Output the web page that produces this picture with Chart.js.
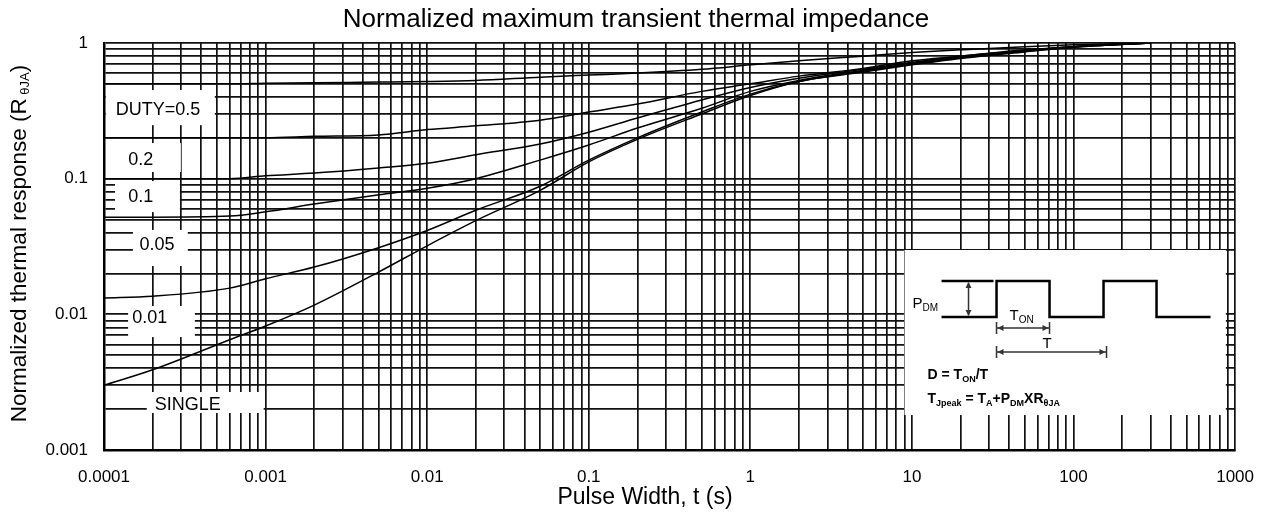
<!DOCTYPE html>
<html>
<head>
<meta charset="utf-8">
<title>Normalized maximum transient thermal impedance</title>
<script src="https://cdn.jsdelivr.net/npm/chart.js@4.4.0/dist/chart.umd.min.js"></script>
<style>
  html, body { margin: 0; padding: 0; background: #fff; }
  #wrap { width: 1271px; height: 513px; }
</style>
</head>
<body>
<div id="wrap"><canvas id="zth"></canvas></div>
<script>
// pulse width (s) and normalized Zth
var pulseWidth = [0.0001, 0.0002, 0.0006, 0.001, 0.002, 0.005, 0.01, 0.02, 0.05, 0.1, 0.2, 0.5, 1, 2, 5, 10, 20, 50, 100, 300];
var duty05  = [0.50, 0.50, 0.50, 0.505, 0.51, 0.515, 0.52, 0.53, 0.56, 0.58, 0.60, 0.64, 0.69, 0.74, 0.80, 0.85, 0.89, 0.94, 0.97, 1.0];
var duty02  = [0.20, 0.20, 0.20, 0.20, 0.205, 0.21, 0.23, 0.245, 0.27, 0.31, 0.355, 0.44, 0.50, 0.57, 0.65, 0.74, 0.80, 0.89, 0.94, 1.0];
var duty01  = [0.10, 0.10, 0.10, 0.105, 0.11, 0.12, 0.13, 0.15, 0.18, 0.22, 0.28, 0.38, 0.47, 0.55, 0.64, 0.72, 0.80, 0.88, 0.94, 1.0];
var duty005 = [0.052, 0.052, 0.053, 0.057, 0.065, 0.076, 0.085, 0.10, 0.137, 0.177, 0.236, 0.33, 0.44, 0.53, 0.63, 0.71, 0.79, 0.88, 0.94, 1.0];
var duty001 = [0.0132, 0.0136, 0.0156, 0.0183, 0.0223, 0.031, 0.0415, 0.0585, 0.088, 0.137, 0.20, 0.31, 0.42, 0.52, 0.62, 0.70, 0.78, 0.87, 0.93, 1.0];
var single  = [0.0030, 0.0039, 0.0065, 0.0082, 0.0117, 0.0205, 0.032, 0.049, 0.082, 0.133, 0.195, 0.30, 0.41, 0.52, 0.61, 0.69, 0.77, 0.86, 0.93, 1.0];

var curveNames = ['DUTY=0.5', '0.2', '0.1', '0.05', '0.01', 'SINGLE'];
var curveValues = [duty05, duty02, duty01, duty005, duty001, single];

var xTickLabels = ['0.0001', '0.001', '0.01', '0.1', '1', '10', '100', '1000'];
var yTickLabels = ['0.001', '0.01', '0.1', '1'];

// where the curve names sit (data coords) and the white patch behind each one
var nameX = [0.000216, 0.000169, 0.000169, 0.000213, 0.000192, 0.00033];
var nameY = [0.32, 0.137, 0.0732, 0.0324, 0.0094, 0.00215];
var nameBoxes = [
  [0.000103, 0.000485, 0.45, 0.248],
  [0.000103, 0.000299, 0.183, 0.112],
  [0.000117, 0.000295, 0.096, 0.0567],
  [0.000151, 0.00033, 0.0419, 0.0227],
  [0.000141, 0.000365, 0.01151, 0.0068],
  [0.000184, 0.000973, 0.002675, 0.001874]
];
// inset with the pulse sketch
var insetBox = [9.0, 877, 0.0298, 0.00181];

var FONT = '"Liberation Sans", Arial, Helvetica, sans-serif';

function isDecade(v) {
  var l = Math.log10(v);
  return Math.abs(l - Math.round(l)) < 1e-6;
}

function logTicks(lo, hi) {
  var out = [];
  for (var e = lo; e < hi; e++) {
    for (var m = 1; m < 10; m++) out.push({ value: m * Math.pow(10, e) });
  }
  out.push({ value: Math.pow(10, hi) });
  return out;
}

// draws text pieces one after another: [text, size, bold, baselineShift]
function drawRuns(ctx, x, y, runs) {
  runs.forEach(function (r) {
    ctx.font = (r[2] ? 'bold ' : '') + r[1] + 'px ' + FONT;
    ctx.fillText(r[0], x, y + r[3]);
    x += ctx.measureText(r[0]).width;
  });
  return x;
}

function runsWidth(ctx, runs) {
  var w = 0;
  runs.forEach(function (r) {
    ctx.font = (r[2] ? 'bold ' : '') + r[1] + 'px ' + FONT;
    w += ctx.measureText(r[0]).width;
  });
  return w;
}

function arrowHead(ctx, x, y, dx, dy) {
  var s = 6, w = 3;
  ctx.beginPath();
  ctx.moveTo(x, y);
  ctx.lineTo(x - dx * s - dy * w, y - dy * s - dx * w);
  ctx.lineTo(x - dx * s + dy * w, y - dy * s + dx * w);
  ctx.closePath();
  ctx.fill();
}

var decor = {
  id: 'decor',
  beforeDatasetsDraw: function (chart) {
    var ctx = chart.ctx, xs = chart.scales.x, ys = chart.scales.y;
    ctx.save();

    // white patches + curve names
    ctx.fillStyle = '#fff';
    nameBoxes.forEach(function (b) {
      var x0 = xs.getPixelForValue(b[0]), x1 = xs.getPixelForValue(b[1]);
      var y0 = ys.getPixelForValue(b[2]), y1 = ys.getPixelForValue(b[3]);
      ctx.fillRect(x0, y0, x1 - x0, y1 - y0);
    });
    ctx.fillStyle = '#000';
    ctx.font = '18px ' + FONT;
    ctx.textAlign = 'center';
    ctx.textBaseline = 'middle';
    curveNames.forEach(function (n, i) {
      ctx.fillText(n, xs.getPixelForValue(nameX[i]), ys.getPixelForValue(nameY[i]));
    });

    // inset
    var ox = xs.getPixelForValue(insetBox[0]), ox1 = xs.getPixelForValue(insetBox[1]);
    var oy = ys.getPixelForValue(insetBox[2]), oy1 = ys.getPixelForValue(insetBox[3]);
    ctx.fillStyle = '#fff';
    ctx.fillRect(ox, oy, ox1 - ox, oy1 - oy);

    ctx.strokeStyle = '#000';
    ctx.fillStyle = '#000';
    ctx.lineWidth = 2.5;
    ctx.beginPath();
    ctx.moveTo(ox + 37, oy + 31); ctx.lineTo(ox + 89, oy + 31);
    ctx.moveTo(ox + 37, oy + 67);
    [[92, 67], [92, 31], [145, 31], [145, 67], [199, 67], [199, 31], [252, 31], [252, 67], [306, 67]].forEach(function (p) {
      ctx.lineTo(ox + p[0], oy + p[1]);
    });
    ctx.stroke();

    ctx.strokeStyle = '#333';
    ctx.fillStyle = '#333';
    ctx.lineWidth = 1.5;
    ctx.beginPath();
    ctx.moveTo(ox + 64, oy + 33); ctx.lineTo(ox + 64, oy + 65);
    ctx.moveTo(ox + 92, oy + 78); ctx.lineTo(ox + 145, oy + 78);
    ctx.moveTo(ox + 92, oy + 72); ctx.lineTo(ox + 92, oy + 84);
    ctx.moveTo(ox + 145, oy + 72); ctx.lineTo(ox + 145, oy + 84);
    ctx.moveTo(ox + 92, oy + 102); ctx.lineTo(ox + 202, oy + 102);
    ctx.moveTo(ox + 92, oy + 96); ctx.lineTo(ox + 92, oy + 108);
    ctx.moveTo(ox + 202, oy + 96); ctx.lineTo(ox + 202, oy + 108);
    ctx.stroke();
    arrowHead(ctx, ox + 64, oy + 32, 0, -1);
    arrowHead(ctx, ox + 64, oy + 66, 0, 1);
    arrowHead(ctx, ox + 93, oy + 78, -1, 0);
    arrowHead(ctx, ox + 144, oy + 78, 1, 0);
    arrowHead(ctx, ox + 93, oy + 102, -1, 0);
    arrowHead(ctx, ox + 201, oy + 102, 1, 0);

    ctx.fillStyle = '#000';
    ctx.textAlign = 'left';
    ctx.textBaseline = 'alphabetic';
    drawRuns(ctx, ox + 8, oy + 58, [['P', 15, false, 0], ['DM', 10, false, 3]]);
    drawRuns(ctx, ox + 105, oy + 70, [['T', 15, false, 0], ['ON', 10, false, 3]]);
    drawRuns(ctx, ox + 138, oy + 98, [['T', 15, false, 0]]);
    drawRuns(ctx, ox + 23, oy + 129, [['D = T', 14, true, 0], ['ON', 9, true, 3], ['/T', 14, true, 0]]);
    drawRuns(ctx, ox + 23, oy + 153, [
      ['T', 14, true, 0], ['Jpeak', 9, true, 3], [' = T', 14, true, 0], ['A', 9, true, 3],
      ['+P', 14, true, 0], ['DM', 9, true, 3], ['XR', 14, true, 0], ['\u03b8JA', 9, true, 3]
    ]);
    ctx.restore();
  },
  afterDraw: function (chart) {
    var ctx = chart.ctx, ca = chart.chartArea;
    ctx.save();
    ctx.fillStyle = '#000';
    ctx.textBaseline = 'alphabetic';
    ctx.textAlign = 'center';

    // chart title
    ctx.font = '26px ' + FONT;
    ctx.fillText('Normalized maximum transient thermal impedance', 636, 27);

    // x axis title, sits a bit left of the plot centre
    ctx.font = '23px ' + FONT;
    ctx.fillText('Pulse Width, t (s)', 645, 504);

    // y axis title with subscript
    var runs = [['Normalized thermal response (R', 22.5, false, 0], [' \u03b8JA', 13, false, 3], [')', 22.5, false, 0]];
    ctx.translate(18, (ca.top + ca.bottom) / 2 - 3);
    ctx.rotate(-Math.PI / 2);
    ctx.textAlign = 'left';
    var w = runsWidth(ctx, runs);
    drawRuns(ctx, -w / 2, 8, runs);
    ctx.restore();
  }
};

var colors = ['#000', '#000', '#000', '#000', '#000', '#000'];

new Chart(document.getElementById('zth'), {
  type: 'line',
  data: {
    labels: pulseWidth,
    datasets: curveNames.map(function (n, i) {
      return {
        label: n,
        data: pulseWidth.map(function (t, k) { return { x: t, y: curveValues[i][k] }; }),
        borderColor: colors[i],
        borderWidth: 1.5,
        pointRadius: 0,
        fill: false,
        cubicInterpolationMode: 'monotone'
      };
    })
  },
  options: {
    responsive: true,
    maintainAspectRatio: false,
    animation: false,
    layout: { padding: { top: 43, right: 34, left: 0, bottom: 0 } },
    plugins: {
      legend: { display: false },
      tooltip: { enabled: false },
      title: { display: false }
    },
    scales: {
      x: {
        type: 'logarithmic',
        min: 0.0001,
        max: 1000,
        afterBuildTicks: function (s) { s.ticks = logTicks(-4, 3); },
        afterFit: function (s) { s.height = 63; },
        grid: { color: '#111', lineWidth: 1.7, drawTicks: false },
        border: { color: '#000', width: 2.5 },
        ticks: {
          autoSkip: false,
          maxRotation: 0,
          padding: 17,
          color: '#000',
          font: { family: FONT, size: 17 },
          callback: function (v) {
            return isDecade(v) ? xTickLabels[Math.round(Math.log10(v)) + 4] : '';
          }
        },
        title: { display: false }
      },
      y: {
        type: 'logarithmic',
        min: 0.001,
        max: 1,
        afterBuildTicks: function (s) { s.ticks = logTicks(-3, 0); },
        afterFit: function (s) { s.width = 104; },
        grid: { color: '#111', lineWidth: 1.7, drawTicks: false },
        border: { color: '#000', width: 2.5 },
        ticks: {
          autoSkip: false,
          padding: 16,
          color: '#000',
          font: { family: FONT, size: 17 },
          callback: function (v) {
            return isDecade(v) ? yTickLabels[Math.round(Math.log10(v)) + 3] : '';
          }
        }
      }
    }
  },
  plugins: [decor]
});
</script>
</body>
</html>
